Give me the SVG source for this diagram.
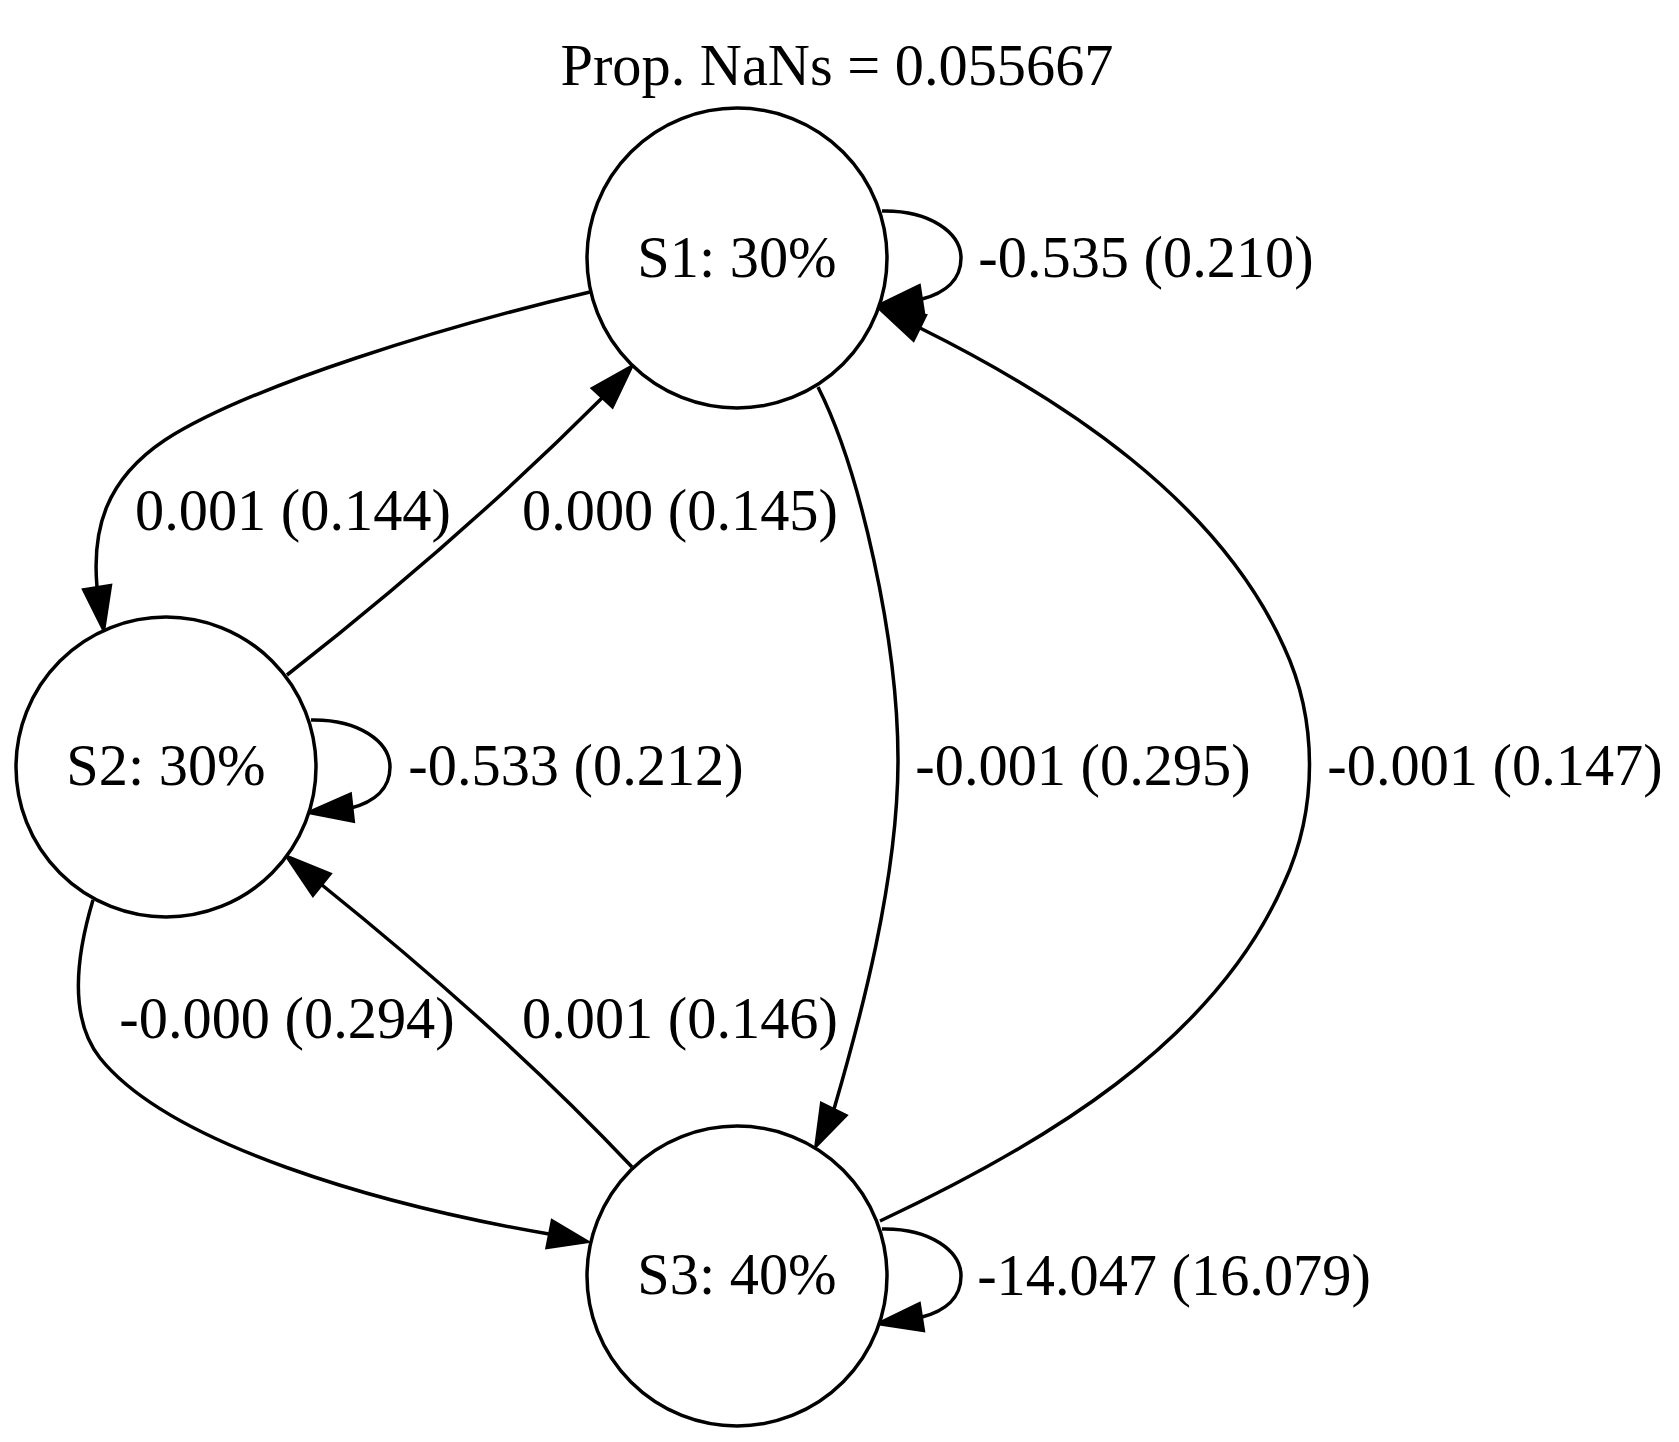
<svg xmlns="http://www.w3.org/2000/svg" width="1679" height="1442" viewBox="0 0 1679 1442">
<style>
text { font-family: "Liberation Serif", "Times New Roman", serif; font-size: 58.33px; fill: #000; text-anchor: middle; }
.node circle { fill: #fff; stroke: #000; stroke-width: 3.5; }
.edge path { fill: none; stroke: #000; stroke-width: 3.5; }
.edge polygon { fill: #000; stroke: #000; stroke-width: 2; stroke-linejoin: miter; }
</style>
<rect x="0" y="0" width="1679" height="1442" fill="#fff"/>
<g id="title"><text x="837" y="85">Prop. NaNs = 0.055667</text></g>
<g id="connectors">
  <g class="edge" id="e-S1-S1">
    <path d="M882,211 C930,210 961,233 961,258 C961,280 945,293 922,299"/>
    <polygon points="876,306 924.2,313.3 919.8,284.7"/>
    <text x="1146" y="277">-0.535 (0.210)</text>
  </g>
  <g class="edge" id="e-S1-S2">
    <path d="M590,292 C450,325 250,385 165,440 C105,480 92,530 97,587"/>
    <polygon points="104,632 111.3,584.8 82.7,589.2"/>
    <text x="293" y="530">0.001 (0.144)</text>
  </g>
  <g class="edge" id="e-S2-S1">
    <path d="M287,675 C360,618 480,520 602,398"/>
    <polygon points="633,365 612.6,407.9 591.4,388.1"/>
    <text x="680" y="530">0.000 (0.145)</text>
  </g>
  <g class="edge" id="e-S1-S3">
    <path d="M818,387 C860,470 898,640 898,760 C898,880 860,1020 834,1109"/>
    <polygon points="815,1148 847,1115.4 821,1102.6"/>
    <text x="1083" y="785">-0.001 (0.295)</text>
  </g>
  <g class="edge" id="e-S3-S1">
    <path d="M880,1221 C1040,1146 1214,1044 1284,883 C1318,809 1318,720 1284,647 C1218,500 1063,399 920,328"/>
    <polygon points="877,307 926.4,315 913.6,341"/>
    <text x="1495" y="785">-0.001 (0.147)</text>
  </g>
  <g class="edge" id="e-S2-S2">
    <path d="M311,720 C359,719 390,742 390,767 C390,789 374,802 351,808"/>
    <polygon points="306.7,812.7 354.1,821.9 350.9,793.1"/>
    <text x="576" y="785">-0.533 (0.212)</text>
  </g>
  <g class="edge" id="e-S3-S2">
    <path d="M632,1167 C548,1078 440,980 322,885"/>
    <polygon points="285,855 331.1,873.7 312.9,896.3"/>
    <text x="680" y="1038">0.001 (0.146)</text>
  </g>
  <g class="edge" id="e-S2-S3">
    <path d="M93,900 C75,960 70,1020 100,1058 C170,1145 380,1205 549,1234"/>
    <polygon points="589,1242 546.2,1248.2 551.8,1219.8"/>
    <text x="287" y="1038">-0.000 (0.294)</text>
  </g>
  <g class="edge" id="e-S3-S3">
    <path d="M882,1229 C930,1228 961,1251 961,1276 C961,1298 945,1311 922,1317"/>
    <polygon points="876,1324 924.2,1331.3 919.8,1302.7"/>
    <text x="1174" y="1295">-14.047 (16.079)</text>
  </g>
</g>
<g class="node" id="S1"><circle cx="737" cy="258" r="150"/><text x="737" y="276.5">S1: 30%</text></g>
<g class="node" id="S2"><circle cx="166" cy="767" r="150"/><text x="166" y="785">S2: 30%</text></g>
<g class="node" id="S3"><circle cx="737" cy="1276" r="150"/><text x="737" y="1294">S3: 40%</text></g>
</svg>
